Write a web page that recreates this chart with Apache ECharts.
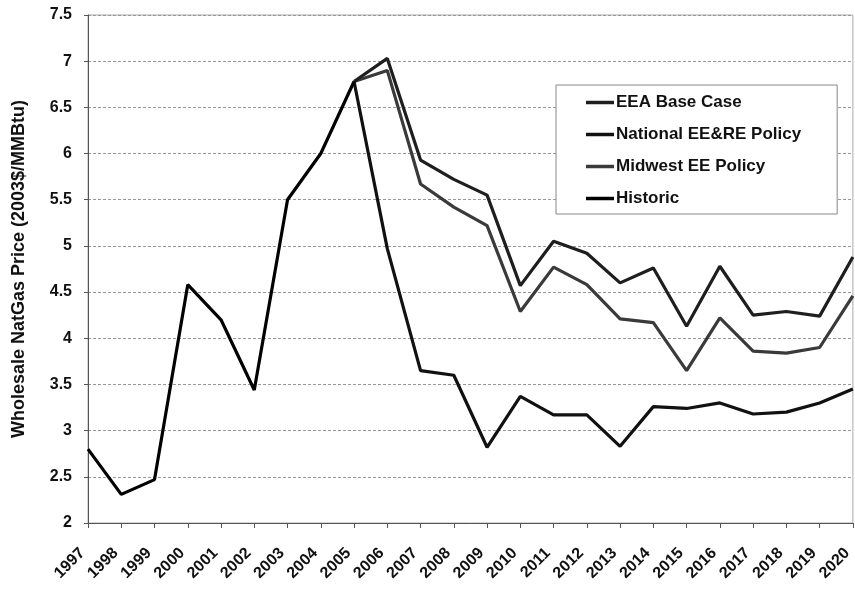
<!DOCTYPE html>
<html>
<head>
<meta charset="utf-8">
<script src="https://cdn.jsdelivr.net/npm/echarts@6/dist/echarts.min.js"></script>
<style>html,body{margin:0;padding:0;background:#fff;}#c{width:855px;height:590px;}</style>
</head>
<body>
<div id="c"></div>
<script>
var years = ['1997','1998','1999','2000','2001','2002','2003','2004','2005','2006','2007','2008','2009','2010','2011','2012','2013','2014','2015','2016','2017','2018','2019','2020'];
var historic = [2.8, 2.31, 2.47, 4.58, 4.2, 3.44, 5.5, 6.0, 6.78, null, null, null, null, null, null, null, null, null, null, null, null, null, null, null];
var eeaBase = [null, null, null, null, null, null, null, null, 6.78, 7.03, 5.93, 5.72, 5.55, 4.57, 5.05, 4.92, 4.6, 4.76, 4.13, 4.78, 4.25, 4.29, 4.24, 4.88];
var midwestEE = [null, null, null, null, null, null, null, null, 6.78, 6.9, 5.67, 5.42, 5.22, 4.29, 4.77, 4.58, 4.21, 4.17, 3.65, 4.22, 3.86, 3.84, 3.9, 4.46];
var nationalEERE = [null, null, null, null, null, null, null, null, 6.78, 4.97, 3.65, 3.6, 2.82, 3.37, 3.17, 3.17, 2.83, 3.26, 3.24, 3.3, 3.18, 3.2, 3.3, 3.45];
var seriesNames = ['EEA Base Case', 'National EE&RE Policy', 'Midwest EE Policy', 'Historic'];

var FONT = 'Liberation Sans, Arial, sans-serif';
var chart = echarts.init(document.getElementById('c'), null, {renderer: 'canvas'});
function mk(name, data, color, z) {
  return {
    name: name, type: 'line', data: data, symbol: 'none', showSymbol: false,
    connectNulls: false, z: z,
    lineStyle: {color: color, width: 3.2}, itemStyle: {color: color}
  };
}
chart.setOption({
  backgroundColor: '#fff',
  animation: false,
  grid: {left: 88, right: 1, top: 15, bottom: 67, show: true, borderColor: '#aaa', borderWidth: 1},
  legend: {
    orient: 'vertical', left: 556, top: 85,
    padding: [9, 36, 7, 30], itemGap: 15,
    borderColor: '#888', borderWidth: 1, backgroundColor: '#fff',
    icon: 'rect', itemWidth: 28, itemHeight: 3.5,
    textStyle: {fontFamily: FONT, fontWeight: 'bold', fontSize: 17, color: '#111', padding: [0, 0, 0, -3]},
    data: seriesNames
  },
  xAxis: {
    type: 'category', data: years, boundaryGap: false,
    axisLine: {lineStyle: {color: '#555', width: 1}},
    axisTick: {show: true, length: 5, lineStyle: {color: '#555'}},
    axisLabel: {rotate: 45, interval: 0, margin: 22, padding: [0, 8, 0, 0], fontFamily: FONT, fontWeight: 'bold', fontSize: 16, color: '#111'},
    splitLine: {show: false}
  },
  yAxis: {
    type: 'value', min: 2, max: 7.5, interval: 0.5,
    name: 'Wholesale NatGas Price (2003$/MMBtu)', nameLocation: 'middle', nameGap: 60,
    nameTextStyle: {fontFamily: FONT, fontWeight: 'bold', fontSize: 18, color: '#111'},
    axisLine: {show: true, lineStyle: {color: '#555'}},
    axisTick: {show: true, length: 4, lineStyle: {color: '#555'}},
    axisLabel: {margin: 16, fontFamily: FONT, fontWeight: 'bold', fontSize: 16, color: '#111'},
    splitLine: {show: true, lineStyle: {color: '#999', width: 1, type: [3, 2]}}
  },
  series: [
    mk(seriesNames[0], eeaBase, '#1e1e1e', 3),
    mk(seriesNames[1], nationalEERE, '#111111', 4),
    mk(seriesNames[2], midwestEE, '#3a3a3a', 2),
    mk(seriesNames[3], historic, '#000000', 5)
  ]
});
</script>
</body>
</html>
